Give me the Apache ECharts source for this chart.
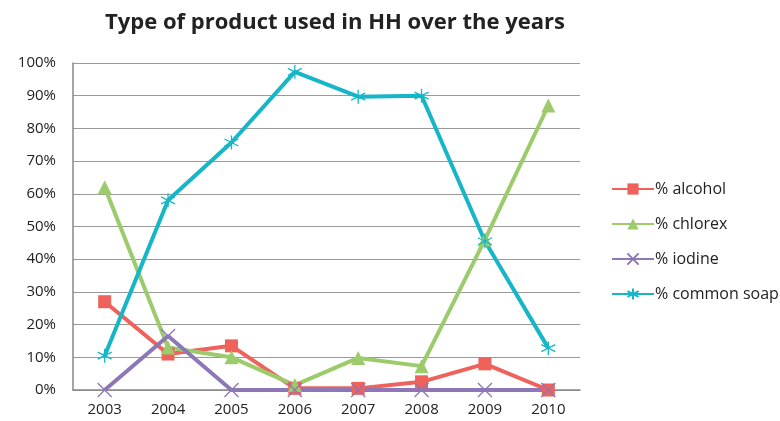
<!DOCTYPE html>
<html>
<head>
<meta charset="utf-8">
<script src="https://cdn.jsdelivr.net/npm/echarts@6/dist/echarts.min.js"></script>
<style>
  html, body { margin: 0; padding: 0; background: #fff; }
  #chart { width: 780px; height: 421px; }
</style>
</head>
<body>
<div id="chart"></div>
<script>
  // data
  const years = ['2003', '2004', '2005', '2006', '2007', '2008', '2009', '2010'];
  const alcohol = [27, 11, 13.5, 0.5, 0.5, 2.5, 8, 0];
  const chlorex = [62, 13, 10, 1.5, 9.8, 7.3, 46, 87];
  const iodine = [0, 16.5, 0, 0, 0, 0, 0, 0];
  const commonSoap = [10.5, 58, 75.7, 97.3, 89.7, 90, 45.5, 12.8];

  const xMark = 'path://M0,0L10,10M10,0L0,10';
  const starMark = 'path://M5,0L5,10M0.7,2.5L9.3,7.5M0.7,7.5L9.3,2.5';

  const chart = echarts.init(document.getElementById('chart'));

  const mk = (name, data, color, symbol, size, stroke) => ({
    name: name,
    type: 'line',
    data: data,
    symbol: symbol,
    symbolSize: size,
    showAllSymbol: true,
    lineStyle: { color: color, width: 4 },
    itemStyle: stroke
      ? { color: color, borderColor: color, borderWidth: 1.3 }
      : { color: color },
    emphasis: { disabled: true }
  });

  const option = {
    animation: false,
    title: {
      text: 'Type of product used in HH over the years',
      left: 330,
      textAlign: 'center',
      top: 7,
      textStyle: { fontFamily: 'Open Sans', fontWeight: 'bold', fontSize: 22, color: '#222' }
    },
    grid: { left: 73, right: 200, top: 63, bottom: 31 },
    legend: {
      orient: 'vertical',
      left: 606,
      top: 176,
      itemGap: 19,
      itemWidth: 42,
      itemHeight: 14,
      textStyle: { fontFamily: 'Open Sans', fontSize: 16, color: '#222', padding: [0, 0, 0, -4] },
      data: ['% alcohol', '% chlorex', '% iodine', '% common soap']
    },
    xAxis: {
      type: 'category',
      data: years,
      boundaryGap: true,
      axisLine: { lineStyle: { color: '#888', width: 1.5 } },
      axisTick: { show: false },
      axisLabel: { fontFamily: 'Open Sans', fontSize: 15, color: '#222', margin: 12 }
    },
    yAxis: {
      type: 'value',
      min: 0,
      max: 100,
      interval: 10,
      axisLine: { show: true, lineStyle: { color: '#888', width: 1.5 } },
      axisTick: { show: false },
      splitLine: { lineStyle: { color: '#999', width: 1.2 } },
      axisLabel: { fontFamily: 'Open Sans', fontSize: 15, color: '#222', margin: 17, formatter: '{value}%' }
    },
    series: [
      mk('% alcohol', alcohol, '#EF615B', 'rect', 13, false),
      mk('% chlorex', chlorex, '#9BCB6B', 'triangle', 14, false),
      mk('% iodine', iodine, '#8D77B6', xMark, 14, true),
      mk('% common soap', commonSoap, '#16B6C8', starMark, 14, true)
    ]
  };

  option && chart.setOption(option);
</script>
</body>
</html>
